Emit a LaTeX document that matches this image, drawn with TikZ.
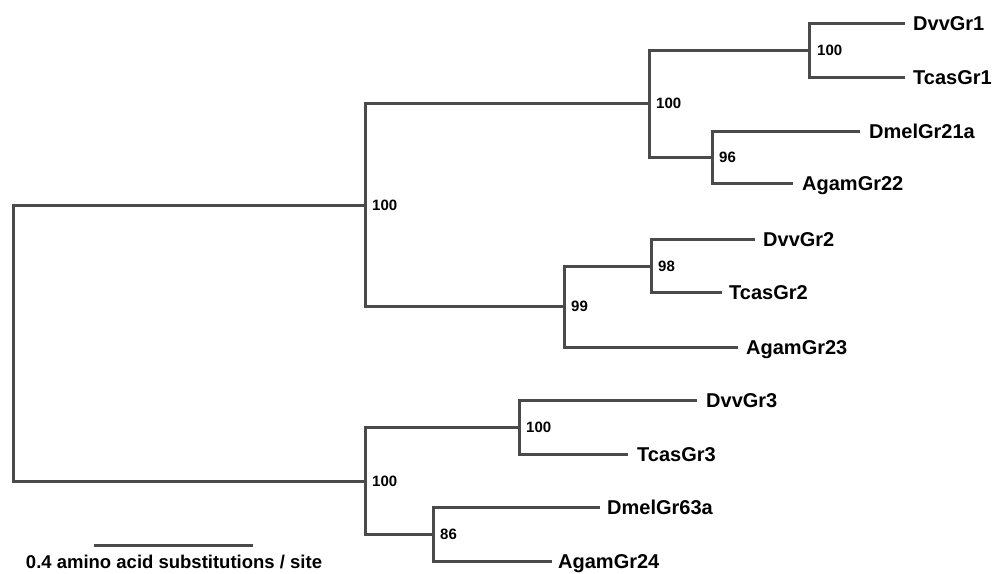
\documentclass[tikz,border=0pt]{standalone}
\usepackage{fontspec}
\setmainfont{Liberation Sans}
\definecolor{branchgray}{HTML}{4A4A4A}
\begin{document}
\begin{tikzpicture}[x=1pt,y=-1pt,
  branch/.style={draw=branchgray,line width=3pt,line join=miter},
  leaf/.style={anchor=west,inner sep=0pt,font=\fontsize{20}{20}\selectfont\bfseries,text height=14.3pt,text depth=0pt},
  boot/.style={anchor=west,inner sep=0pt,font=\fontsize{15}{15}\selectfont\bfseries,text height=10.7pt,text depth=0pt},
  scaletext/.style={inner sep=0pt,font=\fontsize{18.5}{18.5}\selectfont\bfseries,text height=13.2pt,text depth=0pt}]
\useasboundingbox (0,0) rectangle (995,573);
% internal nodes
\coordinate (r) at (13,343);
\coordinate (A) at (365,205);
\coordinate (B) at (365,481);
\coordinate (A1) at (649,103);
\coordinate (A11) at (809,50);
\coordinate (A12) at (712,157);
\coordinate (A2) at (564,306);
\coordinate (A21) at (651,266);
\coordinate (B1) at (519,427);
\coordinate (B2) at (433,534);
% leaf ends
\coordinate (l1) at (905,23);
\coordinate (l2) at (905,77);
\coordinate (l3) at (860,131);
\coordinate (l4) at (793,183);
\coordinate (l5) at (755,239);
\coordinate (l6) at (722,292);
\coordinate (l7) at (738,347);
\coordinate (l8) at (697,400);
\coordinate (l9) at (628,454);
\coordinate (l10) at (600,507);
\coordinate (l11) at (552,561);
% branches
\path[branch] (r) |- (A);
\path[branch] (r) |- (B);
\path[branch] (A) |- (A1);
\path[branch] (A) |- (A2);
\path[branch] (A1) |- (A11);
\path[branch] (A1) |- (A12);
\path[branch] (A11) |- (l1);
\path[branch] (A11) |- (l2);
\path[branch] (A12) |- (l3);
\path[branch] (A12) |- (l4);
\path[branch] (A2) |- (A21);
\path[branch] (A2) |- (l7);
\path[branch] (A21) |- (l5);
\path[branch] (A21) |- (l6);
\path[branch] (B) |- (B1);
\path[branch] (B) |- (B2);
\path[branch] (B1) |- (l8);
\path[branch] (B1) |- (l9);
\path[branch] (B2) |- (l10);
\path[branch] (B2) |- (l11);
% leaf labels
\node[leaf] (t1) at ([xshift=8pt]l1) {DvvGr1};
\node[leaf] (t2) at ([xshift=8pt]l2) {TcasGr1};
\node[leaf] (t3) at ([xshift=9pt]l3) {DmelGr21a};
\node[leaf] (t4) at ([xshift=9pt]l4) {AgamGr22};
\node[leaf] (t5) at ([xshift=8pt]l5) {DvvGr2};
\node[leaf] (t6) at ([xshift=7pt]l6) {TcasGr2};
\node[leaf] (t7) at ([xshift=8pt]l7) {AgamGr23};
\node[leaf] (t8) at ([xshift=9pt]l8) {DvvGr3};
\node[leaf] (t9) at ([xshift=9pt]l9) {TcasGr3};
\node[leaf] (t10) at ([xshift=7pt]l10) {DmelGr63a};
\node[leaf] (t11) at ([xshift=6pt]l11) {AgamGr24};
% bootstrap values
\node[boot] (bA) at ([xshift=7pt]A) {100};
\node[boot] (bB) at ([xshift=7pt]B) {100};
\node[boot] (bA1) at ([xshift=7pt]A1) {100};
\node[boot] (bA11) at ([xshift=8pt]A11) {100};
\node[boot] (bA12) at ([xshift=7pt]A12) {96};
\node[boot] (bA2) at ([xshift=7pt]A2) {99};
\node[boot] (bA21) at ([xshift=7pt]A21) {98};
\node[boot] (bB1) at ([xshift=7pt]B1) {100};
\node[boot] (bB2) at ([xshift=7pt]B2) {86};
% scale bar
\coordinate (s1) at (94,545);
\coordinate (s2) at (253,545);
\path[branch] (s1) -- (s2);
\node[scaletext] (st) at (174,562) {0.4 amino acid substitutions / site};
\end{tikzpicture}
\end{document}
